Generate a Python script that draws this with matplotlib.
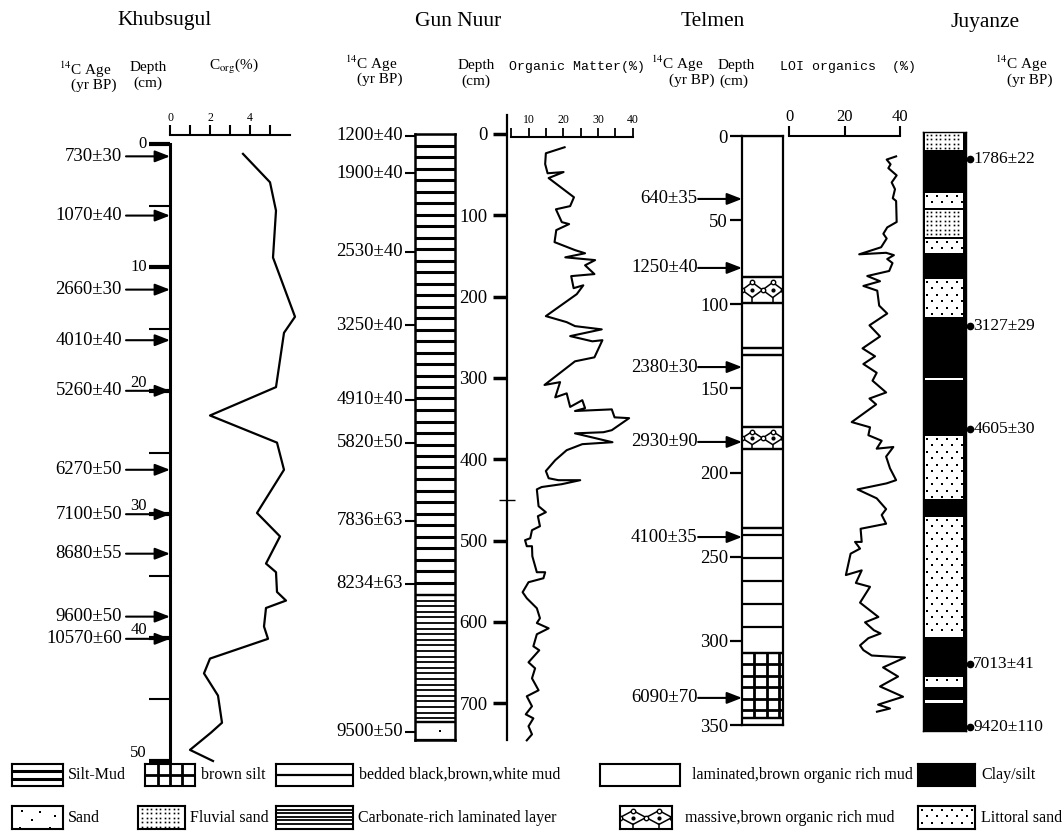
import numpy as np
import matplotlib
matplotlib.use('Agg')
import matplotlib.pyplot as plt

plt.rcParams['font.family'] = ['Liberation Serif', 'DejaVu Serif']
plt.rcParams['mathtext.fontset'] = 'stix'

W, H = 1064, 833

# ---------------- Khubsugul ----------------
khub_depth = [0.8, 3.1, 5.4, 9.2, 14.0, 15.3, 19.7, 22.0, 24.2, 26.4, 29.9, 31.8, 34.0,
              34.7, 36.3, 37.0, 37.6, 39.1, 40.1, 41.7, 42.9, 44.7, 46.9, 47.7, 49.1, 50.0]
khub_corg = [3.65, 5.0, 5.3, 5.15, 6.25, 5.7, 5.3, 2.0, 5.35, 5.7, 4.35, 5.5, 4.8,
             5.3, 5.35, 5.8, 4.8, 4.7, 4.9, 2.0, 1.7, 2.4, 2.6, 2.05, 1.0, 2.15]
khub_age_depth = [1.0, 5.8, 11.8, 15.9, 20.0, 26.4, 30.0, 33.2, 38.3, 40.1]
khub_ages = ['730±30', '1070±40', '2660±30', '4010±40', '5260±40', '6270±50',
             '7100±50', '8680±55', '9600±50', '10570±60']

# ---------------- Gun Nuur ----------------
gun_depth = [16.3, 23.7, 37.0, 48.3, 46.8, 54.2, 66.5, 77.8, 88.7, 92.6,
             108.4, 110.8, 118.2, 133.0, 142.8, 146.7, 151.7, 155.1, 161.5, 172.3,
             174.8, 189.6, 186.1, 197.0, 224.0, 231.4, 236.3, 240.3, 248.6, 255.0,
             253.6, 274.7, 279.6, 308.7, 305.2, 323.9, 319.0, 335.7, 327.4, 337.2,
             340.7, 338.7, 348.5, 349.5, 364.3, 366.8, 368.2, 379.1, 381.5, 388.9,
             401.2, 414.5, 423.4, 425.8, 425.8, 430.7, 434.2, 437.1, 457.8, 465.2,
             470.1, 482.4, 487.3, 497.2, 499.6, 507.0, 507.0, 519.3, 539.0, 539.0,
             546.4, 551.3, 563.6, 571.0, 583.3, 595.6, 601.5, 608.0, 615.3, 630.1,
             635.0, 649.8, 657.2, 669.5, 684.2, 691.6, 703.9, 713.8, 718.7, 728.5,
             738.4, 745.8]
gun_om = [20.4, 15.0, 14.8, 15.5, 20.1, 15.8, 19.6, 23.1, 22.0, 17.9,
          19.6, 21.7, 18.0, 17.5, 23.4, 26.3, 20.6, 29.2, 26.3, 29.0,
          22.3, 23.0, 25.8, 23.9, 15.0, 21.0, 23.4, 31.1, 22.0, 28.4,
          31.3, 29.0, 23.4, 14.6, 19.1, 17.7, 21.0, 22.0, 25.5, 26.3,
          23.4, 34.0, 34.8, 39.0, 34.0, 31.6, 23.4, 34.2, 25.5, 21.0,
          17.7, 15.0, 15.8, 18.6, 24.9, 19.6, 13.8, 12.4, 12.9, 15.0,
          12.7, 13.3, 11.0, 10.5, 9.0, 9.5, 11.0, 11.1, 12.4, 14.8,
          14.3, 10.0, 8.3, 9.5, 12.4, 13.3, 12.4, 15.8, 12.4, 11.4,
          13.1, 10.0, 11.9, 11.0, 12.9, 9.5, 11.0, 9.2, 11.4, 10.0,
          11.0, 9.5]
gun_age_depth = [2, 48, 145, 235, 327, 380, 476, 553, 735]
gun_ages = ['1200±40', '1900±40', '2530±40', '3250±40', '4910±40', '5820±50',
            '7836±63', '8234±63', '9500±50']
gun_kind = ['siltmud', 'carbonate', 'sand']
gun_top = [0, 567, 723]
gun_bot = [567, 723, 745]

# ---------------- Telmen ----------------
tel_depth = [12.1, 14.0, 16.8, 19.1, 23.4, 27.6, 31.6, 37.0, 38.6, 51.1,
             54.3, 58.1, 60.9, 66.1, 70.3, 69.4, 70.8, 73.1, 75.5, 80.2,
             83.2, 86.3, 89.1, 91.9, 100.8, 105.5, 112.5, 119.1, 126.2, 130.9,
             135.5, 140.7, 145.4, 152.4, 156.0, 159.5, 170.0, 173.1, 177.8, 181.1,
             185.8, 184.8, 190.5, 197.5, 204.5, 206.4, 210.0, 215.3, 221.7, 225.2,
             230.4, 233.4, 241.2, 241.2, 245.2, 248.2, 260.9, 258.1, 265.6, 267.9,
             277.3, 285.8, 289.0, 293.7, 295.6, 298.4, 302.7, 305.5, 308.7, 309.9,
             315.8, 321.2, 327.1, 333.2, 337.9, 340.2, 342.1]
tel_loi = [38.6, 35.2, 36.6, 35.8, 38.8, 37.0, 38.2, 37.4, 38.6, 38.8,
           35.4, 34.0, 35.2, 33.2, 25.3, 35.0, 37.8, 35.4, 37.3, 36.1,
           28.2, 32.8, 26.8, 31.8, 32.5, 35.4, 29.0, 32.8, 26.5, 31.0,
           26.8, 31.6, 30.1, 35.0, 29.0, 31.4, 22.6, 29.2, 28.6, 33.4,
           31.6, 37.6, 35.0, 36.4, 38.6, 35.2, 24.7, 31.6, 35.0, 33.4,
           35.0, 25.8, 26.2, 23.8, 25.6, 22.2, 20.5, 26.2, 24.1, 29.2,
           25.6, 32.2, 27.4, 30.6, 33.0, 28.6, 25.6, 26.8, 29.8, 41.8,
           33.9, 39.3, 32.8, 41.1, 32.1, 36.4, 31.7]
tel_age_depth = [37.4, 78.4, 137.3, 181.8, 238.3, 333.9]
tel_ages = ['640±35', '1250±40', '2380±30', '2930±90', '4100±35', '6090±70']
tel_kind = ['laminated', 'massive', 'laminated', 'laminated', 'laminated', 'massive',
            'laminated', 'bedded', 'brownsilt', 'laminated']
tel_top = [0, 84, 99, 126, 130, 173, 186, 233, 307, 346]
tel_bot = [84, 99, 126, 130, 173, 186, 233, 307, 346, 350]

# ---------------- Juyanze ----------------
juy_kind = ['fluvial', 'clay', 'littoral', 'fluvial', 'littoral', 'clay', 'littoral', 'clay',
            'littoral', 'clay', 'littoral', 'clay', 'littoral', 'clay', 'littoral', 'clay',
            'littoral', 'clay']
juy_top = [0, 19, 60, 77, 106, 122, 146, 186, 245, 248.5, 303, 368, 384, 506, 544, 555.5, 567, 572]
juy_bot = juy_top[1:] + [599]
juy_age_pos = [27, 194, 297, 532, 595]
juy_ages = ['1786±22', '3127±29', '4605±30', '7013±41', '9420±110']

# ---------------- legend ----------------
leg_kind = [['siltmud', 'brownsilt', 'bedded', 'laminated', 'clay'],
            ['sand', 'fluvial', 'carbonate', 'massive', 'littoral']]
leg_text = [['Silt-Mud', 'brown silt', 'bedded black,brown,white mud',
             'laminated,brown organic rich mud', 'Clay/silt'],
            ['Sand', 'Fluvial sand', 'Carbonate-rich laminated layer',
             'massive,brown organic rich mud', 'Littoral sand']]

fig = plt.figure(figsize=(W / 100, H / 100), dpi=100)


def px_axes(x0, y0, x1, y1):
    ax = fig.add_axes([x0 / W, 1 - y1 / H, (x1 - x0) / W, (y1 - y0) / H])
    ax.patch.set_alpha(0)
    return ax


def per_px(ax):
    b = ax.get_position()
    xl, yl = ax.get_xlim(), ax.get_ylim()
    return abs(xl[1] - xl[0]) / (b.width * W), abs(yl[1] - yl[0]) / (b.height * H)


def ftext(x, y, s, **kw):
    kw.setdefault('ha', 'center')
    kw.setdefault('va', 'center')
    fig.text(x / W, 1 - y / H, s, **kw)


def only_spines(ax, keep, lw):
    for name, sp in ax.spines.items():
        sp.set_visible(name in keep)
        sp.set_linewidth(lw)


LINE_STYLE = {'siltmud': (11.5, None, 2.2), 'bedded': (23, 7, 1.6), 'carbonate': (5.6, None, 1.3)}


def draw_layer(ax, kind, top, bot, edges=True, step=None, offset=None,
               cols=(0.3, 0.6, 0.9), dots=((0.62, 0.5),), inset=False):
    ux, uy = per_px(ax)
    if kind == 'clay':
        ax.axhspan(top, bot, color='k', lw=0)
        return
    if inset:
        ax.axhspan(top + uy, bot - uy, xmin=2.5 * ux, xmax=1 - 2.5 * ux, color='w', lw=0)
    else:
        ax.axhspan(top, bot, color='w', lw=0)
    if kind in LINE_STYLE:
        s0, off0, lw = LINE_STYLE[kind]
        s = (step or s0) * uy
        off = (offset or off0 or s / uy) * uy
        ax.hlines(np.arange(top + off, bot - 0.4 * s, s), 0, 1, color='k', lw=lw)
    elif kind == 'brownsilt':
        s = (step or 11.5) * uy
        ax.hlines(np.arange(top + s, bot - 0.4 * s, s), 0, 1, color='k', lw=2)
        ax.vlines(cols, top, bot, color='k', lw=2)
    elif kind == 'sand':
        fx, fy = zip(*dots)
        ax.plot(fx, [top + f * (bot - top) for f in fy], 's', ms=1.8, color='k', mew=0)
    elif kind == 'massive':
        n = 2
        h = bot - top
        mid = top + h / 2
        for i in range(n):
            x0, x1 = i / n, (i + 1) / n
            cx = (x0 + x1) / 2
            ax.plot([x0, cx, x1, cx, x0], [mid, top + 0.2 * h, mid, bot - 0.2 * h, mid],
                    color='k', lw=1.1)
            ax.plot([cx, cx], [bot - 0.2 * h, bot], color='k', lw=1.1)
            ax.plot([cx], [mid], 'o', ms=2, color='k')
            ax.plot([cx], [top + 0.2 * h], 'o', ms=3.2, mfc='w', mec='k', mew=1)
        ax.plot(np.linspace(0, 1, n + 1), [mid] * (n + 1), 'o', ms=3.2, mfc='w', mec='k', mew=1)
    elif kind in ('littoral', 'fluvial'):
        dx, dy, ms, stag = (10, 6.5, 1.7, True) if kind == 'littoral' else (4.5, 4.5, 1.2, False)
        xs, ys = [], []
        rows = np.arange(top + 0.6 * dy * uy, bot - 0.3 * dy * uy, dy * uy)
        for r, yv in enumerate(rows):
            sh = 0.5 * dx * ux if (stag and r % 2) else 0
            for xv in np.arange(4 * ux + sh, 1 - 3 * ux, dx * ux):
                xs.append(xv)
                ys.append(yv)
        ax.plot(xs, ys, 's', ms=ms, color='k', mew=0)
    if edges:
        ax.hlines([top, bot], 0, 1, color='k', lw=1.6)


arrow = dict(arrowstyle='-|>,head_length=0.9,head_width=0.35', mutation_scale=10,
             lw=1.5, color='k', shrinkA=0, shrinkB=0)

# ================= Khubsugul =================
ax = px_axes(170, 135, 290, 761)
ax.set_xlim(0, 6)
ax.set_ylim(50, -0.73)
only_spines(ax, ('left', 'top'), 1.5)
ax.spines['left'].set_linewidth(2.2)
ax.spines['left'].set_bounds(0, 50)
ax.xaxis.tick_top()
ax.set_xticks(range(6))
ax.set_xticklabels(['0', '', '2', '', '4', ''], fontsize=8.5)
ax.tick_params(axis='x', direction='out', length=7, width=1.5, pad=1)
ax.set_yticks(range(0, 51, 10))
ax.set_yticks(range(5, 50, 10), minor=True)
ax.tick_params(axis='y', which='major', direction='out', length=15, width=3, labelleft=False)
ax.tick_params(axis='y', which='minor', direction='out', length=15, width=1.5)
ax.plot(khub_corg, khub_depth, color='k', lw=1.6, clip_on=False)
for d in range(0, 51, 10):
    ax.text(-1.15, d, str(d), ha='right', va='center' if d < 20 else 'bottom', fontsize=12)
for d, lab in zip(khub_age_depth, khub_ages):
    ax.annotate('', xy=(0, d), xytext=(-2.2, d), arrowprops=arrow, annotation_clip=False)
    ax.text(-2.4, d, lab, ha='right', va='center', fontsize=13.5)

ftext(165, 20, 'Khubsugul', fontsize=15.5)
ftext(85, 70, r'$^{14}$C Age', fontsize=11)
ftext(94, 85, '(yr BP)', fontsize=11)
ftext(148, 68, 'Depth', fontsize=11)
ftext(148, 83, '(cm)', fontsize=11)
ftext(234, 67, r'C$_{\rm org}$(%)', fontsize=11)

# ================= Gun Nuur =================
axc = px_axes(415, 134, 455, 739.7)
axc.set_xlim(0, 1)
axc.set_ylim(745, 0)
axc.set_xticks([])
axc.set_yticks([])
for sp in axc.spines.values():
    sp.set_linewidth(1.8)
for kind, top, bot in zip(gun_kind, gun_top, gun_bot):
    draw_layer(axc, kind, top, bot)
axc.hlines(gun_age_depth, -0.25, 0, color='k', lw=1.5, clip_on=False)
for d, lab in zip(gun_age_depth, gun_ages):
    axc.text(-0.3, d, lab, ha='right', va='center', fontsize=13.5)

axg = px_axes(507, 115.3, 632.6, 739.7)
axg.set_xlim(3.8, 40)
axg.set_ylim(745, -23)
only_spines(axg, ('left',), 1.6)
axg.set_xticks([])
axg.set_yticks(range(0, 701, 100))
axg.set_yticks([450], minor=True)
axg.tick_params(axis='y', which='major', direction='out', length=10, width=2.5,
                labelsize=13.5, pad=4)
axg.tick_params(axis='y', which='minor', direction='inout', length=12, width=1)
axg.plot(gun_om, gun_depth, color='k', lw=1.5, clip_on=False)

axs = px_axes(507, 136.5, 632.6, 138)
axs.set_xlim(3.8, 40)
only_spines(axs, ('top',), 1.5)
axs.spines['top'].set_bounds(5, 40)
axs.xaxis.tick_top()
axs.set_xticks([10, 20, 30, 40])
axs.set_xticks([5, 15, 25, 35], minor=True)
axs.tick_params(axis='x', which='both', direction='out', length=6.5, width=1.3,
                labelsize=8.5, pad=1)
axs.set_yticks([])

ftext(458, 22, 'Gun Nuur', fontsize=15.5)
ftext(371, 64, r'$^{14}$C Age', fontsize=11)
ftext(380, 79, '(yr BP)', fontsize=11)
ftext(476, 66, 'Depth', fontsize=11)
ftext(476, 81, '(cm)', fontsize=11)
ftext(577, 67, 'Organic Matter(%)', fontsize=9.5, family='Liberation Mono')

# ================= Telmen =================
axt = px_axes(742, 136, 783, 725)
axt.set_xlim(0, 1)
axt.set_ylim(350, 0)
for sp in axt.spines.values():
    sp.set_linewidth(1.6)
axt.set_xticks([])
axt.set_yticks(range(0, 351, 50))
axt.tick_params(axis='y', direction='out', length=8.5, width=1.6, labelsize=13.5, pad=1.5)
for kind, top, bot in zip(tel_kind, tel_top, tel_bot):
    draw_layer(axt, kind, top, bot)
for d, lab in zip(tel_age_depth, tel_ages):
    axt.annotate('', xy=(0, d), xytext=(-1.07, d), arrowprops=arrow, annotation_clip=False)
    axt.text(-1.08, d, lab, ha='right', va='center', fontsize=13.5)

axl = px_axes(789, 136, 900, 725)
axl.set_xlim(0, 40)
axl.set_ylim(350, 0)
only_spines(axl, ('top',), 1.5)
axl.xaxis.tick_top()
axl.set_xticks([0, 20, 40])
axl.tick_params(axis='x', direction='out', length=7, width=1.5, labelsize=12, pad=1)
axl.set_yticks([])
axl.plot(tel_loi, tel_depth, color='k', lw=1.5, clip_on=False)

ftext(713, 22, 'Telmen', fontsize=15.5)
ftext(677, 64, r'$^{14}$C Age', fontsize=11)
ftext(692, 80, '(yr BP)', fontsize=11)
ftext(736, 66, 'Depth', fontsize=11)
ftext(734, 81, '(cm)', fontsize=11)
ftext(848, 67, 'LOI organics  (%)', fontsize=9.5, family='Liberation Mono')

# ================= Juyanze =================
axj = px_axes(923, 132, 966, 731)
axj.patch.set_alpha(1)
axj.set_facecolor('k')
axj.set_xlim(0, 1)
axj.set_ylim(599, 0)
axj.set_xticks([])
axj.set_yticks([])
for sp in axj.spines.values():
    sp.set_linewidth(1)
for kind, top, bot in zip(juy_kind, juy_top, juy_bot):
    draw_layer(axj, kind, top, bot, edges=False, inset=True)
axj.plot(np.full(len(juy_age_pos), 1.09), juy_age_pos, 'o', ms=4.5, color='k', clip_on=False)
for d, lab in zip(juy_age_pos, juy_ages):
    axj.text(1.17, d, lab, ha='left', va='center', fontsize=12.5)

ftext(985, 22, 'Juyanze', fontsize=15.5)
ftext(1021, 64, r'$^{14}$C Age', fontsize=11)
ftext(1030, 80, '(yr BP)', fontsize=11)

# ================= legend =================
leg_box = [[(12, 63), (145, 195), (276, 353), (600, 680), (918, 975)],
           [(12, 63), (138, 185), (276, 353), (620, 672), (918, 975)]]
leg_tx = [[68, 201, 359, 692, 981], [68, 190, 358, 685, 981]]
leg_rows = [(764, 786), (806, 829)]
leg_opts = {'siltmud': dict(step=7.3), 'brownsilt': dict(step=11, cols=(0.25, 0.5, 0.75)),
            'bedded': dict(step=11, offset=11), 'carbonate': dict(step=3.6),
            'sand': dict(dots=((0.2, 0.2), (0.55, 0.25), (0.85, 0.45), (0.4, 0.6),
                               (0.15, 0.95), (0.75, 0.95)))}
for r in range(2):
    y0, y1 = leg_rows[r]
    for (x0, x1), kind, tx, lab in zip(leg_box[r], leg_kind[r], leg_tx[r], leg_text[r]):
        sw = px_axes(x0, y0, x1, y1)
        sw.set_xlim(0, 1)
        sw.set_ylim(1, 0)
        sw.set_xticks([])
        sw.set_yticks([])
        for sp in sw.spines.values():
            sp.set_linewidth(1.5)
        draw_layer(sw, kind, 0, 1, edges=False, **leg_opts.get(kind, {}))
        ftext(tx, (y0 + y1) / 2, lab, ha='left', fontsize=11.5)

fig.savefig('out.png', dpi=100)
